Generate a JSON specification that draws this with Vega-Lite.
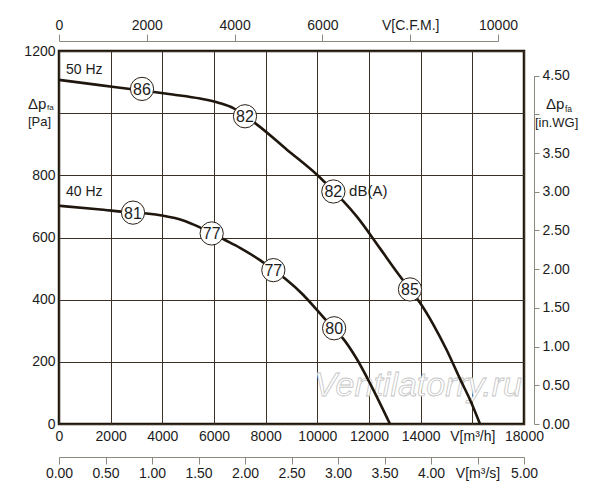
{
  "$schema": "https://vega.github.io/schema/vega-lite/v6.json",
  "width": 465,
  "height": 373,
  "autosize": {"type": "none"},
  "padding": {"left": 59, "top": 51, "right": 76, "bottom": 76},
  "background": "white",
  "config": {
    "font": "Liberation Sans",
    "view": {"stroke": "#1e150b", "strokeWidth": 2.5},
    "axis": {"labelFontSize": 14, "labelColor": "#1c1c1c", "labelFlush": false, "labelOverlap": false, "labelBound": false, "title": null},
    "text": {"font": "Liberation Sans", "color": "#1c1c1c"}
  },
  "datasets": {
    "curves": [
      {"hz": "50 Hz", "q": 0, "p": 1107},
      {"hz": "50 Hz", "q": 1500, "p": 1091},
      {"hz": "50 Hz", "q": 3213, "p": 1073},
      {"hz": "50 Hz", "q": 4400, "p": 1060},
      {"hz": "50 Hz", "q": 5458, "p": 1047},
      {"hz": "50 Hz", "q": 6200, "p": 1033},
      {"hz": "50 Hz", "q": 6748, "p": 1016},
      {"hz": "50 Hz", "q": 7200, "p": 990},
      {"hz": "50 Hz", "q": 7652, "p": 964},
      {"hz": "50 Hz", "q": 8800, "p": 884},
      {"hz": "50 Hz", "q": 10039, "p": 798},
      {"hz": "50 Hz", "q": 10620, "p": 750},
      {"hz": "50 Hz", "q": 11006, "p": 717},
      {"hz": "50 Hz", "q": 11523, "p": 668},
      {"hz": "50 Hz", "q": 12426, "p": 565},
      {"hz": "50 Hz", "q": 13071, "p": 490},
      {"hz": "50 Hz", "q": 13587, "p": 433},
      {"hz": "50 Hz", "q": 13974, "p": 390},
      {"hz": "50 Hz", "q": 14490, "p": 320},
      {"hz": "50 Hz", "q": 15007, "p": 238},
      {"hz": "50 Hz", "q": 15523, "p": 145},
      {"hz": "50 Hz", "q": 15910, "p": 78},
      {"hz": "50 Hz", "q": 16297, "p": 0},
      {"hz": "40 Hz", "q": 0, "p": 702},
      {"hz": "40 Hz", "q": 1500, "p": 691},
      {"hz": "40 Hz", "q": 2865, "p": 680},
      {"hz": "40 Hz", "q": 3394, "p": 677},
      {"hz": "40 Hz", "q": 4039, "p": 670},
      {"hz": "40 Hz", "q": 4813, "p": 655},
      {"hz": "40 Hz", "q": 5394, "p": 635},
      {"hz": "40 Hz", "q": 5910, "p": 614},
      {"hz": "40 Hz", "q": 6426, "p": 592},
      {"hz": "40 Hz", "q": 7006, "p": 567},
      {"hz": "40 Hz", "q": 7781, "p": 527},
      {"hz": "40 Hz", "q": 8297, "p": 496},
      {"hz": "40 Hz", "q": 8748, "p": 468},
      {"hz": "40 Hz", "q": 9458, "p": 415},
      {"hz": "40 Hz", "q": 9974, "p": 368},
      {"hz": "40 Hz", "q": 10361, "p": 332},
      {"hz": "40 Hz", "q": 10650, "p": 306},
      {"hz": "40 Hz", "q": 11006, "p": 274},
      {"hz": "40 Hz", "q": 11500, "p": 213},
      {"hz": "40 Hz", "q": 12039, "p": 131},
      {"hz": "40 Hz", "q": 12813, "p": 0}
    ],
    "noise": [
      {"hz": "50 Hz", "q": 3213, "p": 1078, "db": "86"},
      {"hz": "50 Hz", "q": 7200, "p": 990, "db": "82"},
      {"hz": "50 Hz", "q": 10620, "p": 748, "db": "82"},
      {"hz": "50 Hz", "q": 13587, "p": 433, "db": "85"},
      {"hz": "40 Hz", "q": 2865, "p": 680, "db": "81"},
      {"hz": "40 Hz", "q": 5910, "p": 613, "db": "77"},
      {"hz": "40 Hz", "q": 8297, "p": 495, "db": "77"},
      {"hz": "40 Hz", "q": 10650, "p": 308, "db": "80"}
    ],
    "cfm": [{"cfm": 0}, {"cfm": 10000}],
    "ms": [{"ms": 0}, {"ms": 5}],
    "wg": [{"wg": 0}, {"wg": 4.5}],
    "one": [{}]
  },
  "layer": [
    {
      "layer": [
        {
          "data": {"name": "one"},
          "mark": {"type": "text", "text": "Ventilatorry.ru", "fontSize": 34, "fontStyle": "italic", "fill": "white", "stroke": "#c4c4c4", "strokeWidth": 0.8, "align": "center", "baseline": "middle"},
          "encoding": {
            "x": {"datum": 13900, "type": "quantitative", "scale": {"domain": [0, 18000], "nice": false}},
            "y": {"datum": 122, "type": "quantitative", "scale": {"domain": [0, 1200], "nice": false}}
          }
        },
        {
          "data": {"name": "curves"},
          "mark": {"type": "line", "interpolate": "monotone", "color": "#1f160d", "strokeWidth": 2.6},
          "encoding": {
            "x": {"field": "q", "type": "quantitative", "scale": {"domain": [0, 18000], "nice": false},
              "axis": {"orient": "bottom", "title": null, "values": [0, 2000, 4000, 6000, 8000, 10000, 12000, 14000, 16000, 18000], "format": "d",
                "labelExpr": "datum.value == 16000 ? 'V[m³/h]' : datum.label",
                "grid": true, "gridColor": "#3b3024", "gridWidth": 1, "gridOpacity": 1, "domain": false, "ticks": false, "tickSize": 0, "labelPadding": 5}},
            "y": {"field": "p", "type": "quantitative", "scale": {"domain": [0, 1200], "nice": false},
              "axis": {"orient": "left", "title": null, "values": [0, 200, 400, 600, 800, 1000, 1200], "format": "d",
                "labelExpr": "datum.value == 1000 ? '' : datum.label",
                "grid": true, "gridColor": "#3b3024", "gridWidth": 1, "gridOpacity": 1, "domain": false, "ticks": false, "tickSize": 0, "labelPadding": 4}},
            "detail": {"field": "hz"}
          }
        },
        {
          "data": {"name": "noise"},
          "mark": {"type": "point", "shape": "circle", "size": 540, "filled": true, "fill": "white", "stroke": "#2a2018", "strokeWidth": 1, "opacity": 1},
          "encoding": {
            "x": {"field": "q", "type": "quantitative"},
            "y": {"field": "p", "type": "quantitative"}
          }
        },
        {
          "data": {"name": "noise"},
          "mark": {"type": "text", "fontSize": 16, "align": "center", "baseline": "middle", "dy": 1},
          "encoding": {
            "x": {"field": "q", "type": "quantitative"},
            "y": {"field": "p", "type": "quantitative"},
            "text": {"field": "db"}
          }
        },
        {
          "data": {"name": "one"},
          "mark": {"type": "text", "text": "50 Hz", "fontSize": 14, "align": "left", "baseline": "middle"},
          "encoding": {"x": {"datum": 271, "type": "quantitative"}, "y": {"datum": 1139, "type": "quantitative"}}
        },
        {
          "data": {"name": "one"},
          "mark": {"type": "text", "text": "40 Hz", "fontSize": 14, "align": "left", "baseline": "middle"},
          "encoding": {"x": {"datum": 271, "type": "quantitative"}, "y": {"datum": 746, "type": "quantitative"}}
        },
        {
          "data": {"name": "one"},
          "mark": {"type": "text", "text": "dB(A)", "fontSize": 15, "align": "left", "baseline": "middle"},
          "encoding": {"x": {"datum": 11230, "type": "quantitative"}, "y": {"datum": 748, "type": "quantitative"}}
        },
        {
          "data": {"name": "one"},
          "mark": {"type": "text", "text": "Δp", "fontSize": 15, "align": "left", "baseline": "middle", "dy": -9},
          "encoding": {"x": {"datum": -1200, "type": "quantitative"}, "y": {"datum": 1000, "type": "quantitative"}}
        },
        {
          "data": {"name": "one"},
          "mark": {"type": "text", "text": "fa", "fontSize": 8, "align": "left", "baseline": "middle", "dx": 19, "dy": -5},
          "encoding": {"x": {"datum": -1200, "type": "quantitative"}, "y": {"datum": 1000, "type": "quantitative"}}
        },
        {
          "data": {"name": "one"},
          "mark": {"type": "text", "text": "[Pa]", "fontSize": 13, "align": "left", "baseline": "middle", "dy": 9},
          "encoding": {"x": {"datum": -1200, "type": "quantitative"}, "y": {"datum": 1000, "type": "quantitative"}}
        },
        {
          "data": {"name": "one"},
          "mark": {"type": "text", "text": "Δp", "fontSize": 15, "align": "left", "baseline": "middle", "dy": -10},
          "encoding": {"x": {"datum": 18850, "type": "quantitative"}, "y": {"datum": 996, "type": "quantitative"}}
        },
        {
          "data": {"name": "one"},
          "mark": {"type": "text", "text": "fa", "fontSize": 8.5, "align": "left", "baseline": "middle", "dx": 19, "dy": -5},
          "encoding": {"x": {"datum": 18850, "type": "quantitative"}, "y": {"datum": 996, "type": "quantitative"}}
        },
        {
          "data": {"name": "one"},
          "mark": {"type": "text", "text": "[in.WG]", "fontSize": 13, "align": "left", "baseline": "middle", "dy": 9},
          "encoding": {"x": {"datum": 18426, "type": "quantitative"}, "y": {"datum": 996, "type": "quantitative"}}
        }
      ]
    },
    {
      "data": {"name": "cfm"},
      "mark": {"type": "point", "opacity": 0},
      "encoding": {
        "x": {"field": "cfm", "type": "quantitative", "scale": {"domain": [0, 10000], "range": [0, 439], "nice": false},
          "axis": {"orient": "top", "offset": 10, "title": null, "values": [0, 2000, 4000, 6000, 8000, 10000], "format": "d",
            "labelExpr": "datum.value == 8000 ? 'V[C.F.M.]' : datum.label",
            "grid": false, "domainColor": "#8c8a80", "tickColor": "#8c8a80", "tickSize": 7, "labelPadding": 2}}
      }
    },
    {
      "data": {"name": "ms"},
      "mark": {"type": "point", "opacity": 0},
      "encoding": {
        "x": {"field": "ms", "type": "quantitative", "scale": {"domain": [0, 5], "nice": false},
          "axis": {"orient": "bottom", "offset": 33, "title": null, "values": [0, 0.5, 1, 1.5, 2, 2.5, 3, 3.5, 4, 4.5, 5], "format": ".2f",
            "labelExpr": "datum.value == 4.5 ? 'V[m³/s]' : datum.label",
            "grid": false, "domainColor": "#8c8a80", "tickColor": "#8c8a80", "tickSize": 7, "labelPadding": 2}}
      }
    },
    {
      "data": {"name": "wg"},
      "mark": {"type": "point", "opacity": 0},
      "encoding": {
        "y": {"field": "wg", "type": "quantitative", "scale": {"domain": [0, 4.5], "range": [373, 24.6], "nice": false},
          "axis": {"orient": "right", "offset": 10, "title": null, "values": [0, 0.5, 1, 1.5, 2, 2.5, 3, 3.5, 4, 4.5], "format": ".2f",
            "labelExpr": "datum.value == 4 ? '' : datum.label",
            "grid": false, "domainColor": "#8c8a80", "tickColor": "#8c8a80", "tickSize": 5, "labelPadding": 3}}
      }
    }
  ],
  "resolve": {"scale": {"x": "independent", "y": "independent"}, "axis": {"x": "independent", "y": "independent"}}
}
